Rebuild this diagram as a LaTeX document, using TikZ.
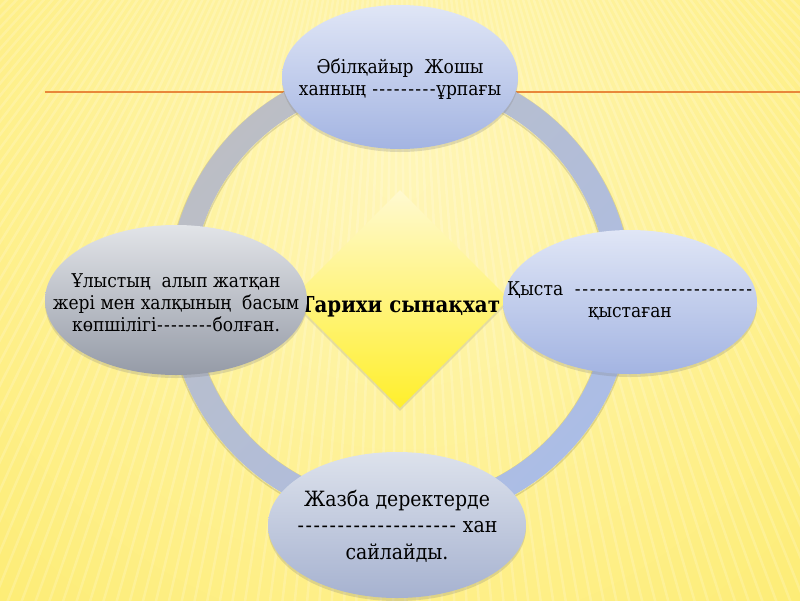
\documentclass[tikz,border=0pt]{standalone}
\usepackage{fontspec}
\setmainfont{DejaVu Serif Condensed}
\usetikzlibrary{shapes.geometric,shadows}
\definecolor{bgyellow}{HTML}{FDEC72}
\definecolor{bglight}{HTML}{FFF6B8}
\definecolor{ruleorange}{HTML}{E8873A}
\definecolor{ringgray}{HTML}{BCBEC4}
\definecolor{ringblue}{HTML}{ABBDE6}
\definecolor{bluetop}{HTML}{E0E6F6}
\definecolor{bluebot}{HTML}{A3B4E2}
\definecolor{graytop}{HTML}{E2E4E8}
\definecolor{graybot}{HTML}{959BA7}
\definecolor{steeltop}{HTML}{DDE2EC}
\definecolor{steelbot}{HTML}{A6B2D0}
\definecolor{diamtop}{HTML}{FFF9D0}
\definecolor{diambot}{HTML}{FFEF2C}
\newcommand\hyphens[2][7.3pt]{\foreach \i in {1,...,#2}{\makebox[#1]{-}}}
\begin{document}
\begin{tikzpicture}[x=1pt, y=-1pt,
  topic/.style={ellipse, inner sep=0pt, drop shadow={opacity=0.25, shadow xshift=0pt, shadow yshift=-3pt}},
  topictext/.style={align=center, font=\fontsize{19}{22}\selectfont}]
\useasboundingbox (0,0) rectangle (800,600);
\clip (0,0) rectangle (800,600);
\fill[bgyellow] (0,0) rectangle (800,600);
\shade[inner color=bglight, outer color=bgyellow] (400,170) circle (620);
\foreach \a in {40,40.7,...,140}
  \draw[white, opacity=0.18, line width=2.5pt] (400,-400) -- ++(\a:1600);
\draw[ruleorange, line width=2pt] (45,92) -- (800,92);
\draw[black, opacity=0.12, line width=1.5pt] (400,294) circle (232.5) (400,294) circle (207.5);
\shade[even odd rule, top color=ringgray, bottom color=ringblue, shading angle=45]
  (400,293) circle (232) (400,293) circle (208);
\node[diamond, minimum width=218pt, minimum height=218pt, inner sep=0pt,
  top color=diamtop, bottom color=diambot,
  drop shadow={opacity=0.2, shadow xshift=0pt, shadow yshift=-3pt}] (core) at (400,299) {};
\node[anchor=base, font=\bfseries\fontsize{22}{22}\selectfont] (coretext) at (400,312) {Тарихи сынақхат};
\node[topic, minimum width=236pt, minimum height=144pt, top color=bluetop, bottom color=bluebot] (north) at (400,77) {};
\node[topic, minimum width=262pt, minimum height=150pt, top color=graytop, bottom color=graybot] (west) at (176,300) {};
\node[topic, minimum width=254pt, minimum height=144pt, top color=bluetop, bottom color=bluebot] (east) at (630,302) {};
\node[topic, minimum width=258pt, minimum height=146pt, top color=steeltop, bottom color=steelbot] (south) at (397,525) {};
\node[topictext] (northtext) at (400,79) {Әбілқайыр~ Жошы\\ханның \hyphens[7.2pt]{9}ұрпағы};
\node[topictext] (westtext) at (176,303) {Ұлыстың~ алып жатқан\\жері мен халқының~ басым\\көпшілігі\hyphens[7pt]{8}болған.};
\node[topictext] (easttext) at (630,301) {Қыста~ \hyphens[7.45pt]{24}\\қыстаған};
\node[topictext, font=\fontsize{21}{26.5}\selectfont] (southtext) at (397,526) {Жазба деректерде\\\hyphens[8pt]{20} хан\\сайлайды.};
\end{tikzpicture}
\end{document}
